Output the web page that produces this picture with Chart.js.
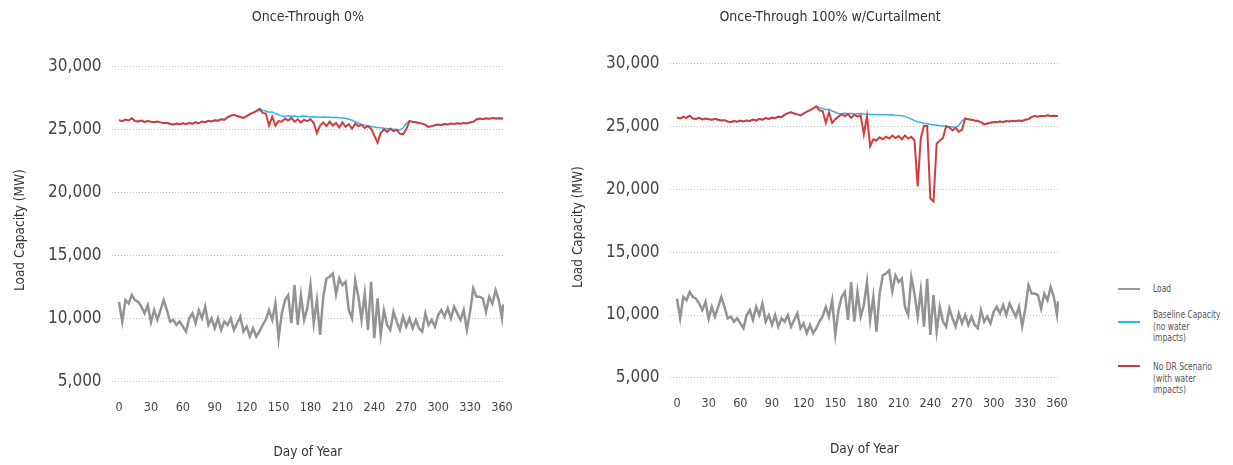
<!DOCTYPE html>
<html>
<head>
<meta charset="utf-8">
<script src="https://cdn.jsdelivr.net/npm/chart.js@4.4.0/dist/chart.umd.min.js"></script>
<style>
html,body{margin:0;padding:0;background:#fff;width:1233px;height:465px;overflow:hidden;position:relative;}
canvas{position:absolute;top:0;}
#c1{left:0;}
#c2{left:560px;}
.lgt{position:absolute;font-family:"DejaVu Sans Condensed","DejaVu Sans",sans-serif;font-size:10.5px;line-height:11.7px;color:#555;white-space:nowrap;transform:scaleX(0.8);transform-origin:0 0;}
.sw{position:absolute;left:1118px;width:22px;height:2px;}
</style>
</head>
<body>
<canvas id="c1" width="530" height="465"></canvas>
<canvas id="c2" width="540" height="465"></canvas>
<div class="sw" style="top:288px;background:#999;"></div>
<div class="lgt" style="left:1153px;top:283px;">Load</div>
<div class="sw" style="top:321px;height:1.5px;background:#33b5ea;"></div>
<div class="lgt" style="left:1153px;top:309px;">Baseline Capacity<br>(no water<br>impacts)</div>
<div class="sw" style="top:365px;background:#d13c3c;"></div>
<div class="lgt" style="left:1153px;top:361px;">No DR Scenario<br>(with water<br>impacts)</div>
<script>
const days = [0,3,6,9,12,15,18,21,24,27,30,33,36,39,42,45,48,51,54,57,
60,63,66,69,72,75,78,81,84,87,90,93,96,99,102,105,108,111,114,117,
120,123,126,129,132,135,138,141,144,147,150,153,156,159,162,165,168,171,174,177,
180,183,186,189,192,195,198,201,204,207,210,213,216,219,222,225,228,231,234,237,
240,243,246,249,252,255,258,261,264,267,270,273,276,279,282,285,288,291,294,297,
300,303,306,309,312,315,318,321,324,327,330,333,336,339,342,345,348,351,354,357,
360,361];

const loadMW = [11300,9740,11440,11180,11840,11440,11310,10920,10390,11050,9700,10650,9870,10650,11440,10650,9740,9870,9470,9740,
9340,8950,10000,10390,9610,10650,10000,10920,9470,10000,9210,10000,9080,9740,9470,10000,9080,9610,10130,8950,
9340,8550,9210,8550,8950,9470,9900,10650,9870,11180,8420,10390,11440,11840,9610,12630,9470,11840,9870,10790,
12630,9610,11440,8680,11710,13160,13300,13550,11900,13160,12630,12900,10650,10000,13020,11710,9870,11970,9080,12890,
8420,11580,8680,10650,9470,9080,10520,9740,9080,10130,9340,10000,9210,9870,9210,8950,10390,9470,9870,9340,
10260,10650,10130,10790,10000,10920,10390,9870,10650,9080,10500,12370,11710,11710,11580,10520,11710,11180,12230,11440,
10000,11100];

const baselineMW = [25730,25650,25780,25700,25870,25650,25620,25700,25580,25650,25600,25560,25620,25550,25500,25520,25420,25380,25450,25400,
25480,25420,25500,25450,25560,25480,25620,25560,25680,25620,25720,25680,25800,25760,25950,26080,26150,26050,25980,25900,
26050,26200,26320,26450,26650,26500,26450,26350,26380,26250,26150,26050,26020,26080,26040,26060,26000,26030,26050,26010,
25970,26000,25980,25960,25980,25950,25960,25930,25950,25920,25900,25880,25800,25720,25600,25480,25400,25330,25280,25230,
25180,25150,25120,25080,25050,25020,25000,24980,24950,25100,25450,25650,25600,25560,25500,25450,25350,25180,25250,25320,
25380,25350,25420,25380,25450,25420,25480,25450,25500,25460,25550,25600,25780,25850,25800,25870,25830,25900,25860,25880,
25850,25850];

const noDR0MW = [25730,25650,25780,25700,25870,25650,25620,25700,25580,25650,25600,25560,25620,25550,25500,25520,25420,25380,25450,25400,
25480,25420,25500,25450,25560,25480,25620,25560,25680,25620,25720,25680,25800,25760,25950,26080,26150,26050,25980,25900,
26050,26200,26320,26450,26600,26300,26250,25300,26000,25300,25650,25600,25850,25700,25900,25600,25800,25550,25750,25650,
25800,25500,24700,25300,25550,25250,25600,25300,25500,25150,25550,25200,25400,25050,25450,25250,25350,25100,25250,25050,
24500,23950,24700,25000,24800,25050,24850,24950,24650,24600,25000,25650,25600,25560,25500,25450,25350,25180,25250,25320,
25380,25350,25420,25380,25450,25420,25480,25450,25500,25460,25550,25600,25780,25850,25800,25870,25830,25900,25860,25880,
25850,25850];

const noDR100MW = [25730,25650,25780,25700,25870,25650,25620,25700,25580,25650,25600,25560,25620,25550,25500,25520,25420,25380,25450,25400,
25480,25420,25500,25450,25560,25480,25620,25560,25680,25620,25720,25680,25800,25760,25950,26080,26150,26050,25980,25900,
26050,26200,26320,26450,26600,26300,26250,25300,26150,25300,25600,25800,26000,25850,26000,25700,25950,25800,25900,24400,
25850,23450,24000,23900,24150,24000,24200,24050,24300,24100,24250,24000,24300,24050,24200,23900,20250,24100,25050,25050,
19300,19050,23650,23900,24100,25050,24950,24700,24900,24600,24750,25650,25600,25560,25500,25450,25350,25180,25250,25320,
25380,25350,25420,25380,25450,25420,25480,25450,25500,25460,25550,25600,25780,25850,25800,25870,25830,25900,25860,25880,
25850,25850];

const xTicks = [0,30,60,90,120,150,180,210,240,270,300,330,360];
const yTicks = [5000,10000,15000,20000,25000,30000];
const panelTitles = ['Once-Through 0%', 'Once-Through 100% w/Curtailment'];
const seriesNames = ['Load', 'Baseline Capacity (no water impacts)', 'No DR Scenario (with water impacts)'];

const FONT = '"DejaVu Sans Condensed", "DejaVu Sans", sans-serif';
const pts = arr => arr.map((v, i) => ({x: days[i], y: v}));

function makeChart(id, title, scenario, g) {
  return new Chart(document.getElementById(id), {
    type: 'line',
    data: {
      datasets: [
        {label: seriesNames[2], data: pts(scenario), borderColor: '#d13c3c', borderWidth: 2, pointRadius: 0, order: 0},
        {label: seriesNames[1], data: pts(baselineMW), borderColor: '#33b5ea', borderWidth: 1.5, pointRadius: 0, order: 1},
        {label: seriesNames[0], data: pts(loadMW), borderColor: '#939393', borderWidth: 2.5, pointRadius: 0, order: 2}
      ]
    },
    options: {
      responsive: false,
      animation: false,
      events: [],
      layout: {padding: {left: g.padLeft, right: g.padRight, top: 0, bottom: 0}},
      plugins: {
        legend: {display: false},
        tooltip: {enabled: false},
        title: {
          display: true, text: title, fullSize: g.fullSize, color: '#333',
          font: {family: FONT, size: 14, weight: 'normal'},
          padding: {top: 8.6, bottom: g.titleBottom}
        }
      },
      scales: {
        x: {
          type: 'linear', min: -7, max: 362,
          grid: {display: false, drawTicks: false},
          border: {display: false},
          ticks: {color: '#444', font: {family: FONT, size: 12.5}, padding: 6, autoSkip: false, maxRotation: 0,
                  callback: v => String(v)},
          afterBuildTicks: s => { s.ticks = xTicks.map(v => ({value: v})); },
          afterFit: s => { s.height = g.xHeight; },
          title: {display: true, text: 'Day of Year', color: '#333',
                  font: {family: FONT, size: 13.5, weight: 'normal'}, padding: {top: 0, bottom: g.xTitleBottom}}
        },
        y: {
          min: 4000, max: 30000,
          grid: {color: '#c4c4c4', lineWidth: 1, drawTicks: false},
          border: {display: false, dash: [1, 2]},
          ticks: {color: '#444', font: {family: FONT, size: 17}, padding: 10,
                  callback: v => v.toLocaleString('en-US')},
          afterBuildTicks: s => { s.ticks = yTicks.map(v => ({value: v})); },
          afterFit: s => { s.width = g.yWidth; },
          title: {display: true, text: 'Load Capacity (MW)', color: '#333',
                  font: {family: FONT, size: 13.5, weight: 'normal'}, padding: {top: g.yTitlePad, bottom: 0}}
        }
      }
    }
  });
}

makeChart('c1', panelTitles[0], noDR0MW,
  {padLeft: 0, padRight: 25.9, fullSize: false, titleBottom: 40.9, xHeight: 71.1, xTitleBottom: 4.9, yWidth: 111.6, yTitlePad: 11.9});
makeChart('c2', panelTitles[1], noDR100MW,
  {padLeft: 40.9, padRight: 40.9, fullSize: true, titleBottom: 38.5, xHeight: 74.6, xTitleBottom: 7.9, yWidth: 68.7, yTitlePad: -31});
</script>
</body>
</html>
